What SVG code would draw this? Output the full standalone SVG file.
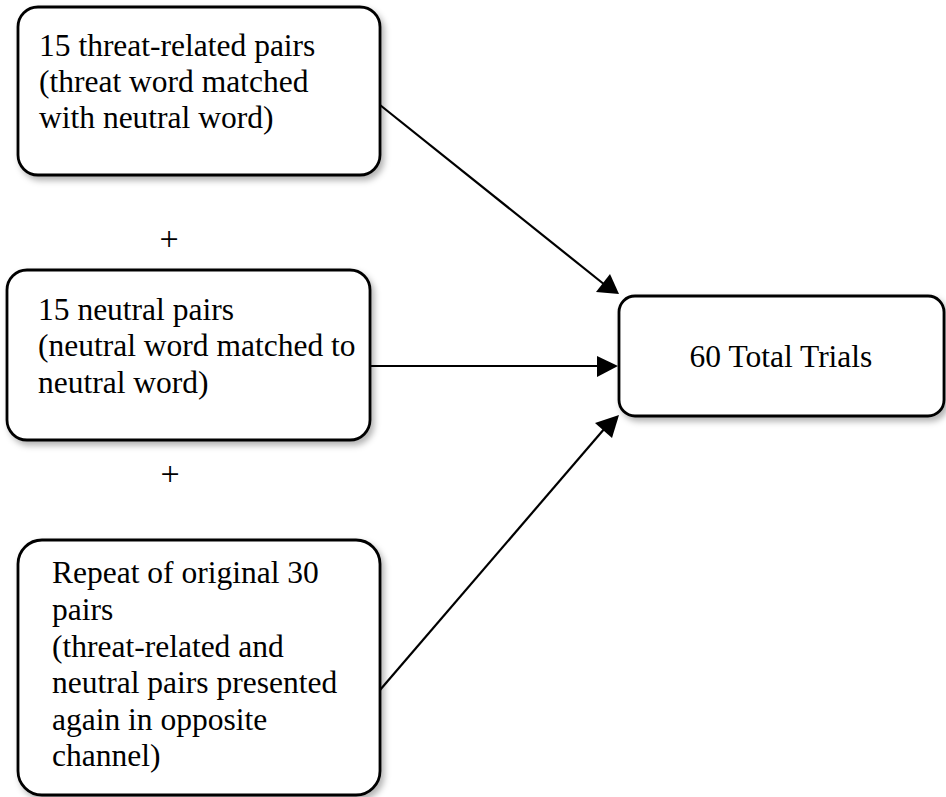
<svg xmlns="http://www.w3.org/2000/svg" width="946" height="797" viewBox="0 0 946 797">
<style>
.box{fill:#fff;stroke:#000;stroke-width:2.8;filter:url(#sh)}
.t{font-family:"Liberation Serif","Times New Roman",serif;font-size:31.5px;fill:#000}
.p{font-family:"Liberation Serif","Times New Roman",serif;font-size:34px;fill:#000}
.c{stroke:#000;stroke-width:2.2;fill:none}
</style>
<defs>
<filter id="sh" x="-10%" y="-10%" width="125%" height="130%">
<feDropShadow dx="3" dy="4" stdDeviation="3" flood-color="#000" flood-opacity="0.3"/>
</filter>
</defs>
<rect width="946" height="797" fill="#fff"/>
<g id="connectors">
<line class="c" x1="380" y1="105" x2="605" y2="285"/>
<polygon points="619,294 596,292 610,274" fill="#000"/>
<line class="c" x1="370" y1="366" x2="600" y2="366"/>
<polygon points="618,366 597,356 597,377" fill="#000"/>
<line class="c" x1="380" y1="690" x2="605" y2="428"/>
<polygon points="619,415 595,423 612,438" fill="#000"/>
</g>
<g id="n1">
<rect class="box" x="18" y="7" width="362" height="168" rx="20"/>
<text class="t" x="39" y="56">15 threat-related pairs</text>
<text class="t" x="39" y="92">(threat word matched</text>
<text class="t" x="39" y="128">with neutral word)</text>
</g>
<g id="plus1"><text class="p" x="169" y="250" text-anchor="middle">+</text></g>
<g id="n2">
<rect class="box" x="7" y="270" width="363" height="170" rx="20"/>
<text class="t" x="38" y="320">15 neutral pairs</text>
<text class="t" x="38" y="356">(neutral word matched to</text>
<text class="t" x="38" y="393">neutral word)</text>
</g>
<g id="plus2"><text class="p" x="170" y="485" text-anchor="middle">+</text></g>
<g id="n3">
<rect class="box" x="18" y="540" width="362" height="255" rx="24"/>
<text class="t" x="52" y="583">Repeat of original 30</text>
<text class="t" x="52" y="620">pairs</text>
<text class="t" x="52" y="657">(threat-related and</text>
<text class="t" x="52" y="693">neutral pairs presented</text>
<text class="t" x="52" y="730">again in opposite</text>
<text class="t" x="52" y="766">channel)</text>
</g>
<g id="n4">
<rect class="box" x="619" y="296" width="325" height="120" rx="16"/>
<text class="t" x="781" y="367" text-anchor="middle">60 Total Trials</text>
</g>
</svg>
